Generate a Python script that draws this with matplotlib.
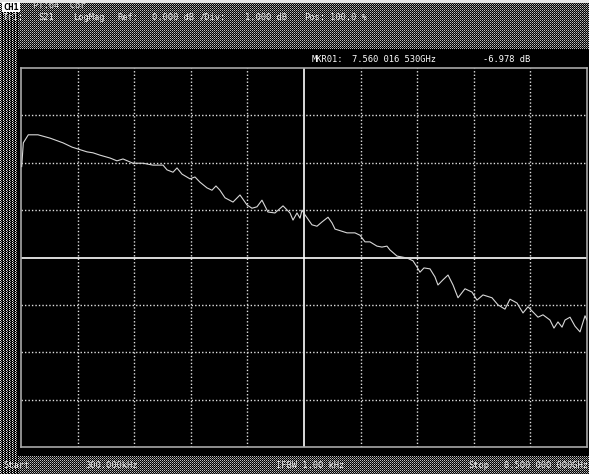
import numpy as np
import matplotlib
matplotlib.use("Agg")
import matplotlib.pyplot as plt

# S21 trace: frequency (GHz) and magnitude (dB)
freq_ghz = [0.011, 0.035, 0.110, 0.255, 0.436, 0.631, 0.766, 0.991, 1.081, 1.187,
            1.337, 1.442, 1.532, 1.682, 1.832, 1.982, 2.133, 2.193, 2.283, 2.343,
            2.418, 2.538, 2.613, 2.688, 2.793, 2.868, 2.928, 2.988, 3.064, 3.184,
            3.289, 3.394, 3.469, 3.544, 3.619, 3.709, 3.814, 3.935, 4.040, 4.085,
            4.145, 4.190, 4.220, 4.265, 4.370, 4.445, 4.520, 4.611, 4.671, 4.716,
            4.896, 5.016, 5.091, 5.166, 5.241, 5.346, 5.421, 5.496, 5.541, 5.647,
            5.797, 5.887, 5.947, 5.992, 6.052, 6.142, 6.217, 6.262, 6.338, 6.413,
            6.488, 6.563, 6.668, 6.773, 6.848, 6.938, 7.073, 7.163, 7.268, 7.343,
            7.448, 7.539, 7.614, 7.689, 7.764, 7.839, 7.944, 8.004, 8.064, 8.125,
            8.170, 8.245, 8.320, 8.395, 8.470, 8.500]
s21_db = [1.92, 2.42, 2.59, 2.59, 2.52, 2.42, 2.33, 2.23, 2.21, 2.16,
          2.10, 2.04, 2.08, 1.99, 1.99, 1.95, 1.95, 1.85, 1.80, 1.89,
          1.76, 1.66, 1.70, 1.59, 1.47, 1.42, 1.51, 1.42, 1.26, 1.17,
          1.32, 1.11, 1.04, 1.07, 1.21, 0.96, 0.94, 1.09, 0.94, 0.79,
          0.94, 0.83, 1.00, 0.90, 0.69, 0.66, 0.75, 0.85, 0.73, 0.60,
          0.52, 0.52, 0.47, 0.33, 0.33, 0.24, 0.22, 0.24, 0.16, 0.03,
          -0.01, -0.07, -0.20, -0.31, -0.22, -0.24, -0.41, -0.58, -0.47, -0.37,
          -0.58, -0.85, -0.66, -0.73, -0.90, -0.79, -0.85, -1.00, -1.09, -0.88,
          -0.96, -1.17, -1.04, -1.15, -1.26, -1.21, -1.32, -1.49, -1.36, -1.47,
          -1.32, -1.26, -1.45, -1.57, -1.23, -1.32]

start_ghz = 0.0003
stop_ghz = 8.5
ref_db = 0.0
div_db = 1.0
n_xdiv = 10
n_ydiv = 8

header_1 = ["PT:64  Cor"]
header_2 = ["Tr1:", "S21", "LogMag", "Ref:", "0.000 dB", "/Div:", "1.000 dB", "Pos:", "100.0 %"]
marker_text = ["MKR01:", "7.560 016 530GHz", "-6.978 dB"]
footer = ["Start", "300.000kHz", "IFBW 1.00 kHz", "Stop", "8.500 000 000GHz"]

W, H = 589, 474
fig = plt.figure(figsize=(W / 100, H / 100), dpi=100)

# dithered instrument frame
bg = np.zeros((H, W, 3))
yy, xx = np.mgrid[0:H, 0:W]
bg[(xx % 2 == 0) & (yy % 2 == 0)] = 0.75
bg[(xx % 2 == 1) & (yy % 2 == 1)] = 0.45
side = (xx < 18)
bg[side] = 0.0
bg[side & (xx % 3 == 0) & (yy % 2 == 0)] = 0.95
bg[side & (xx % 3 == 1) & (yy % 2 == 1)] = 0.6
bg[0:3, :] = 0.9
bg[49:456, 18:W] = 0.0
fig.figimage(bg, 0, 0, origin="upper", zorder=0)

x0, x1, y0, y1 = 21, 587, 68, 447
ax = fig.add_axes([x0 / W, 1 - y1 / H, (x1 - x0) / W, (y1 - y0) / H])
ax.set_zorder(5)
ax.set_facecolor("black")
ax.set_xlim(start_ghz, stop_ghz)
ax.set_ylim(ref_db - div_db * n_ydiv / 2, ref_db + div_db * n_ydiv / 2)
ax.set_xticks([])
ax.set_yticks([])
for s in ax.spines.values():
    s.set_color("#a8a8a8")
    s.set_linewidth(1.2)

xs = np.linspace(start_ghz, stop_ghz, n_xdiv + 1)[1:-1]
ys = np.linspace(ref_db - div_db * n_ydiv / 2, ref_db + div_db * n_ydiv / 2, n_ydiv + 1)[1:-1]
for i, xv in enumerate(xs):
    if i == n_xdiv // 2 - 1:
        ax.axvline(xv, color="white", lw=1.2, zorder=1)
    else:
        ax.axvline(xv, color="#e0e0e0", lw=1.0, ls=(0, (1, 1.5)), zorder=1)
for i, yv in enumerate(ys):
    if i == n_ydiv // 2 - 1:
        ax.axhline(yv, color="white", lw=1.2, zorder=1)
    else:
        ax.axhline(yv, color="#e0e0e0", lw=1.0, ls=(0, (1, 1.5)), zorder=1)

ax.plot(freq_ghz, s21_db, color="#d8d8d8", lw=0.8, zorder=3)

mono = "DejaVu Sans Mono"
fs = 6.3
def put(x, y, s, color="#c8c8c8", **kw):
    t = fig.text(x / W, 1 - y / H, s, color=color, fontsize=fs, family=mono,
                 va="center", ha="left", **kw)
    t.set_zorder(10)
    return t

put(3, 7, "CH1", color="black", fontweight="bold",
    bbox=dict(facecolor="white", edgecolor="none", pad=0.6))
put(33, 6, header_1[0], color="#e0e0e0")
hx = [3, 38, 73, 117, 152, 200, 245, 304, 330]
for x, s in zip(hx, header_2):
    put(x, 17, s, color="#f0f0f0")

put(312, 60, marker_text[0], color="white")
put(352, 60, marker_text[1], color="white")
put(483, 60, marker_text[2], color="white")

fx = [3, 85, 276, 468, 504]
for x, s in zip(fx, footer):
    put(x, 466, s, color="#f0f0f0")

fig.savefig("out.png", dpi=100, facecolor="black")
